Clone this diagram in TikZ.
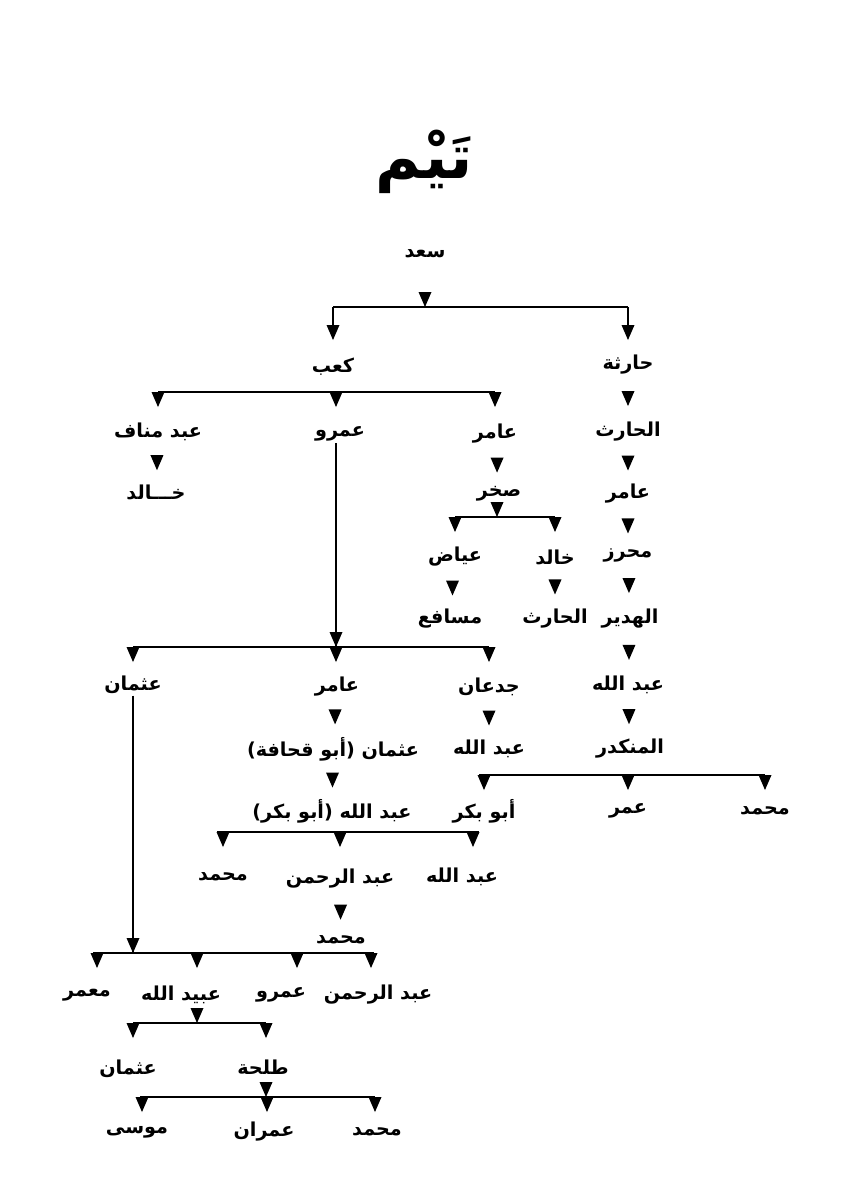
\documentclass[tikz,border=0pt]{standalone}
\usepackage{fontspec}
\TeXXeTstate=1
\newfontfamily\arfont[Script=Arabic]{DejaVu Sans}
\usetikzlibrary{calc}
\newcommand{\rl}[1]{\beginR #1\endR}
\begin{document}
\begin{tikzpicture}[x=0.5pt,y=-0.5pt,line width=0.8pt,
  nm/.style={inner sep=0.5pt,font=\fontsize{9.6}{11}\selectfont\arfont\bfseries},
  tri/.pic={\fill (-6.5,-7.5) -- (6.5,-7.5) -- (0,7.5) -- cycle;},
  trihang/.pic={\fill (-6.5,0) -- (6.5,0) -- (0,15) -- cycle;},
  triend/.pic={\fill (-6.5,-15) -- (6.5,-15) -- (0,0) -- cycle;}]
\useasboundingbox[fill=white] (0,0) rectangle (850,1200);
% title
\node[inner sep=0pt,font=\fontsize{31}{36}\selectfont\arfont\bfseries] (title) at (424,162) {\rl{تَيْم}};
% nodes
\node[nm] (saad) at (425,254) {\rl{سعد}};
\node[nm] (kaab) at (333,367) {\rl{كعب}};
\node[nm] (haritha) at (628,365) {\rl{حارثة}};
\node[nm] (abdmanaf) at (158,432) {\rl{عبد مناف}};
\node[nm] (amr) at (340,434) {\rl{عمرو}};
\node[nm] (amir1) at (495,434) {\rl{عامر}};
\node[nm] (harith1) at (628,432) {\rl{الحارث}};
\node[nm] (khalid1) at (156,492) {\rl{خـــالد}};
\node[nm] (sakhr) at (499,494) {\rl{صخر}};
\node[nm] (amir2) at (628,494) {\rl{عامر}};
\node[nm] (ayyad) at (455,557) {\rl{عياض}};
\node[nm] (khalid2) at (555,557) {\rl{خالد}};
\node[nm] (muhriz) at (628,555) {\rl{محرز}};
\node[nm] (musafi) at (450,619) {\rl{مسافع}};
\node[nm] (harith2) at (555,619) {\rl{الحارث}};
\node[nm] (hudayr) at (630,619) {\rl{الهدير}};
\node[nm] (uthman1) at (133,685) {\rl{عثمان}};
\node[nm] (amir3) at (337,687) {\rl{عامر}};
\node[nm] (judan) at (489,687) {\rl{جدعان}};
\node[nm] (abdallah1) at (628,685) {\rl{عبد الله}};
\node[nm] (abuquhafa) at (333,749) {\rl{عثمان (أبو قحافة)}};
\node[nm] (abdallah2) at (489,749) {\rl{عبد الله}};
\node[nm] (munkadir) at (630,749) {\rl{المنكدر}};
\node[nm] (abdallah3) at (332,811) {\rl{عبد الله (أبو بكر)}};
\node[nm] (abubakr) at (484,811) {\rl{أبو بكر}};
\node[nm] (umar) at (628,811) {\rl{عمر}};
\node[nm] (muhammad3) at (765,811) {\rl{محمد}};
\node[nm] (muhammad1) at (223,877) {\rl{محمد}};
\node[nm] (abdrahman1) at (340,879) {\rl{عبد الرحمن}};
\node[nm] (abdallah4) at (462,877) {\rl{عبد الله}};
\node[nm] (muhammad2) at (341,940) {\rl{محمد}};
\node[nm] (muammar) at (87,995) {\rl{معمر}};
\node[nm] (ubaydallah) at (181,995) {\rl{عبيد الله}};
\node[nm] (amr2) at (281,995) {\rl{عمرو}};
\node[nm] (abdrahman2) at (378,995) {\rl{عبد الرحمن}};
\node[nm] (uthman2) at (128,1069) {\rl{عثمان}};
\node[nm] (talha) at (263,1067) {\rl{طلحة}};
\node[nm] (musa) at (137,1132) {\rl{موسى}};
\node[nm] (imran) at (264,1132) {\rl{عمران}};
\node[nm] (muhammad4) at (377,1132) {\rl{محمد}};
% single-step markers
\foreach \a/\b in {haritha/harith1,harith1/amir2,amir2/muhriz,muhriz/hudayr,hudayr/abdallah1,abdallah1/munkadir,abdmanaf/khalid1,amir1/sakhr,ayyad/musafi,khalid2/harith2,amir3/abuquhafa,judan/abdallah2,abuquhafa/abdallah3,abdrahman1/muhammad2}
  \path (\a) -- (\b) pic[pos=0.5]{tri};
% bar levels
\coordinate (b1) at (0,307);
\coordinate (b2) at (0,392);
\coordinate (b3) at (0,517);
\coordinate (b4) at (0,647);
\coordinate (b5) at (0,775);
\coordinate (b6) at (0,832);
\coordinate (b7) at (0,953);
\coordinate (b8) at (0,1023);
\coordinate (b9) at (0,1097);
% drop points that sit off the text centres
\coordinate (d-manaf) at ($(abdmanaf |- b2)$);
\coordinate (d-amr) at ($(amr |- b2)+(-4,0)$);
\coordinate (d-abd4) at ($(abdallah4 |- b6)+(11,0)$);
\coordinate (d-muammar) at ($(muammar |- b7)+(10,0)$);
\coordinate (d-ubayd) at ($(ubaydallah |- b7)+(16,0)$);
\coordinate (d-amr2) at ($(amr2 |- b7)+(16,0)$);
\coordinate (d-rahman2) at ($(abdrahman2 |- b7)+(-7,0)$);
\coordinate (d-uthman2) at ($(uthman2 |- b8)+(5,0)$);
\coordinate (d-talha) at ($(talha |- b8)+(3,0)$);
\coordinate (d-musa) at ($(musa |- b9)+(5,0)$);
\coordinate (d-imran) at ($(imran |- b9)+(3,0)$);
\coordinate (d-muh4) at ($(muhammad4 |- b9)+(-2,0)$);
% saad
\pic at (saad |- b1) {triend};
\draw (kaab |- b1) -- (haritha |- b1);
\draw (kaab |- b1) -- ++(0,18) pic{trihang};
\draw (haritha |- b1) -- ++(0,18) pic{trihang};
% kaab
\draw (d-manaf) -- (amir1 |- b2);
\foreach \c in {d-manaf,d-amr,amir1 |- b2} \pic at (\c) {trihang};
% sakhr
\pic at ($(sakhr |- b3)+(-2,0)$) {triend};
\draw (ayyad |- b3) -- (khalid2 |- b3);
\foreach \c in {ayyad,khalid2} \pic at (\c |- b3) {trihang};
% amr
\draw (d-amr |- amr.south) -- (d-amr |- b4);
\pic at (d-amr |- b4) {triend};
\draw (uthman1 |- b4) -- (judan |- b4);
\foreach \c in {uthman1,d-amr,judan} \pic at (\c |- b4) {trihang};
% munkadir
\draw ($(abubakr |- b5)+(-5,0)$) -- (muhammad3 |- b5);
\foreach \c in {abubakr,umar,muhammad3} \pic at (\c |- b5) {trihang};
% abdallah (abu bakr)
\draw ($(muhammad1 |- b6)+(-6,0)$) -- ($(d-abd4)+(6,0)$);
\foreach \c in {muhammad1 |- b6,abdrahman1 |- b6,d-abd4} \pic at (\c) {trihang};
% uthman / muhammad
\draw (uthman1) -- (uthman1 |- b7);
\pic at (uthman1 |- b7) {triend};
\draw ($(d-muammar)+(-4,0)$) -- ($(d-rahman2)+(3,0)$);
\foreach \c in {d-muammar,d-ubayd,d-amr2,d-rahman2} \pic at (\c) {trihang};
% ubaydallah
\pic at (d-ubayd |- b8) {triend};
\draw (d-uthman2) -- (d-talha);
\foreach \c in {d-uthman2,d-talha} \pic at (\c) {trihang};
% talha
\pic at (d-talha |- b9) {triend};
\draw ($(d-musa)+(-2,0)$) -- (d-muh4);
\foreach \c in {d-musa,d-imran,d-muh4} \pic at (\c) {trihang};
\end{tikzpicture}
\end{document}
